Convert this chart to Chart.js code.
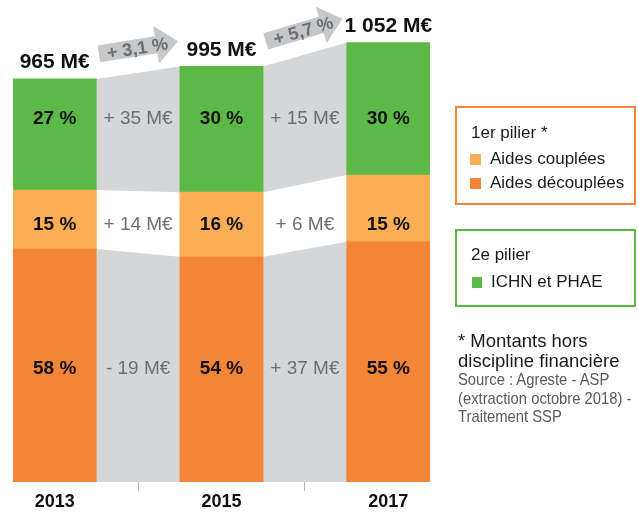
<!DOCTYPE html>
<html><head><meta charset="utf-8">
<script src="https://cdn.jsdelivr.net/npm/chart.js@4"></script>
<style>
html,body{margin:0;padding:0;background:#fff;}
#wrap{position:relative;width:638px;height:513px;overflow:hidden;font-family:'Liberation Sans',Arial,sans-serif;}
#c{position:absolute;left:0;top:0;}
.box{position:absolute;box-sizing:border-box;border:2px solid;}
.t{position:absolute;white-space:nowrap;color:#1a1a1a;line-height:20px;font-size:17px;}
.sw{position:absolute;width:11px;height:11px;}
.note{position:absolute;left:458px;top:331px;font-size:18.5px;line-height:20px;color:#1a1a1a;white-space:nowrap;}
.src{position:absolute;left:458px;top:371px;font-size:17px;line-height:18.5px;color:#58595b;white-space:nowrap;transform:scaleX(0.87);transform-origin:0 0;}
</style></head><body>
<div id="wrap">
<canvas id="c" width="638" height="513"></canvas>
<div class="box" style="left:455px;top:106px;width:181px;height:99px;border-color:#f28537"></div>
<div class="t" style="left:471px;top:123px">1er pilier *</div>
<div class="sw" style="left:470px;top:154px;background:#f9ae55"></div>
<div class="t" style="left:490px;top:149px">Aides couplées</div>
<div class="sw" style="left:470px;top:178px;background:#f28537"></div>
<div class="t" style="left:490px;top:173px">Aides découplées</div>
<div class="box" style="left:455px;top:229px;width:181px;height:78px;border-color:#5cb947"></div>
<div class="t" style="left:471px;top:245px">2e pilier</div>
<div class="sw" style="left:472px;top:277px;width:10px;background:#5cb947"></div>
<div class="t" style="left:491px;top:272px">ICHN et PHAE</div>
<div class="note">* Montants hors<br>discipline financière</div>
<div class="src">Source : Agreste - ASP<br>(extraction octobre 2018) -<br>Traitement SSP</div>
</div>
<script>
// ---- data (M€) ----
const years = [2013, 2015, 2017];
const aidesDecouplees = [558, 539, 575];
const aidesCouplees = [141, 155, 160];
const ichnPhae = [266, 301, 317];
const totals = [965, 995, 1052];
const totalLabels = ['965 M€', '995 M€', '1 052 M€'];
const pctDecouplees = ['58 %', '54 %', '55 %'];
const pctCouplees = ['15 %', '16 %', '15 %'];
const pctIchn = ['27 %', '30 %', '30 %'];
const evolDecouplees = ['- 19 M€', '+ 37 M€'];
const evolCouplees = ['+ 14 M€', '+ 6 M€'];
const evolIchn = ['+ 35 M€', '+ 15 M€'];
const evolTotal = ['+ 3,1 %', '+ 5,7 %'];
const tickYears = [2013, 2014, 2015, 2016, 2017];

const FONT = "'Liberation Sans', Arial, sans-serif";
const C_DEC = '#f28537', C_COU = '#f9ae55', C_ICHN = '#5cb947', C_BAND = '#d5d6d8';
const C_ARROW = '#c6c7c9', C_GREYTXT = '#6d6e70';
const YMAX = 1154;

function barDs(label, vals, color) {
  return { type: 'bar', label, yAxisID: 'y', backgroundColor: color, borderWidth: 0,
    barPercentage: 1, categoryPercentage: 1,
    data: years.map((x, i) => ({ x, y: vals[i] })) };
}
const datasets = [
  barDs('Aides découplées', aidesDecouplees, C_DEC),
  barDs('Aides couplées', aidesCouplees, C_COU),
  barDs('ICHN et PHAE', ichnPhae, C_ICHN)
];
const bands = [
  { bottom: i => 0, top: i => aidesDecouplees[i] },
  { bottom: i => aidesDecouplees[i] + aidesCouplees[i], top: i => aidesDecouplees[i] + aidesCouplees[i] + ichnPhae[i] }
];
for (let g = 0; g < years.length - 1; g++) {
  for (const b of bands) {
    const common = { type: 'line', yAxisID: 'y2', borderWidth: 0, borderColor: 'rgba(0,0,0,0)',
      pointRadius: 0, tension: 0 };
    datasets.push(Object.assign({}, common, { fill: false,
      data: [{ x: years[g] + 0.5, y: b.bottom(g) }, { x: years[g + 1] - 0.5, y: b.bottom(g + 1) }] }));
    datasets.push(Object.assign({}, common, { fill: '-1', backgroundColor: C_BAND,
      data: [{ x: years[g] + 0.5, y: b.top(g) }, { x: years[g + 1] - 0.5, y: b.top(g + 1) }] }));
  }
}

function txt(ctx, s, x, yCenter, size, weight, color) {
  ctx.font = `${weight} ${size}px ${FONT}`;
  ctx.fillStyle = color;
  ctx.textAlign = 'center';
  ctx.textBaseline = 'alphabetic';
  ctx.fillText(s, x, yCenter + 0.358 * size);
}

const labelPlugin = {
  id: 'labels',
  afterDraw(chart) {
    const ctx = chart.ctx, xs = chart.scales.x, ys = chart.scales.y;
    const bottom = chart.chartArea.bottom;
    const rows = [bottom - 114.5, bottom - 259, bottom - 364.5];
    const pcts = [pctDecouplees, pctCouplees, pctIchn];
    const evols = [evolDecouplees, evolCouplees, evolIchn];
    ctx.save();
    years.forEach((yr, i) => {
      const x = xs.getPixelForValue(yr);
      rows.forEach((ry, r) => txt(ctx, pcts[r][i], x, ry, 19, 'bold', '#111'));
      txt(ctx, totalLabels[i], x, ys.getPixelForValue(totals[i]) - 18, 21, 'bold', '#111');
    });
    for (let g = 0; g < years.length - 1; g++) {
      const xl = xs.getPixelForValue(years[g] + 0.5), xr = xs.getPixelForValue(years[g + 1] - 0.5);
      const xm = (xl + xr) / 2;
      rows.forEach((ry, r) => txt(ctx, evols[r][g], xm, ry, 19, 'normal', C_GREYTXT));
      // arrow
      const yl = ys.getPixelForValue(totals[g]), yr = ys.getPixelForValue(totals[g + 1]);
      const ang = Math.atan2(yr - yl, xr - xl) - 0.01;
      const L = 80, h = 8.5, H = 19, hl = 22;
      ctx.save();
      ctx.translate(xl + 2.5, yl - 25);
      ctx.rotate(ang);
      ctx.beginPath();
      ctx.moveTo(0, -h); ctx.lineTo(L - hl, -h); ctx.lineTo(L - hl, -H); ctx.lineTo(L, 0);
      ctx.lineTo(L - hl, H); ctx.lineTo(L - hl, h); ctx.lineTo(0, h); ctx.closePath();
      ctx.fillStyle = C_ARROW; ctx.fill();
      txt(ctx, evolTotal[g], L / 2 - 1, 0, 18, 'bold', C_GREYTXT);
      ctx.restore();
    }
    ctx.restore();
  }
};

new Chart(document.getElementById('c'), {
  type: 'bar',
  data: { datasets },
  options: {
    responsive: false, animation: false,
    layout: { padding: { left: 13, right: 208, top: 0, bottom: 0 } },
    plugins: { legend: { display: false }, tooltip: { enabled: false } },
    scales: {
      x: { type: 'linear', min: 2012.5, max: 2017.5, stacked: true, offset: false,
        afterBuildTicks: s => { s.ticks = tickYears.map(v => ({ value: v })); },
        afterFit: s => { s.height = 31; },
        border: { display: false },
        grid: { offset: false, drawOnChartArea: false, drawTicks: true, tickLength: 9, tickWidth: 1,
          tickColor: c => (c.tick && years.includes(c.tick.value)) ? 'rgba(0,0,0,0)' : '#b3b3b3' },
        ticks: { autoSkip: false, maxRotation: 0, padding: 0, color: '#111',
          font: { family: FONT, size: 18, weight: 'bold' },
          callback: v => years.includes(v) ? String(v) : '' } },
      y: { stacked: true, min: 0, max: YMAX, display: false },
      y2: { min: 0, max: YMAX, display: false }
    }
  },
  plugins: [labelPlugin]
});
</script>
</body></html>
